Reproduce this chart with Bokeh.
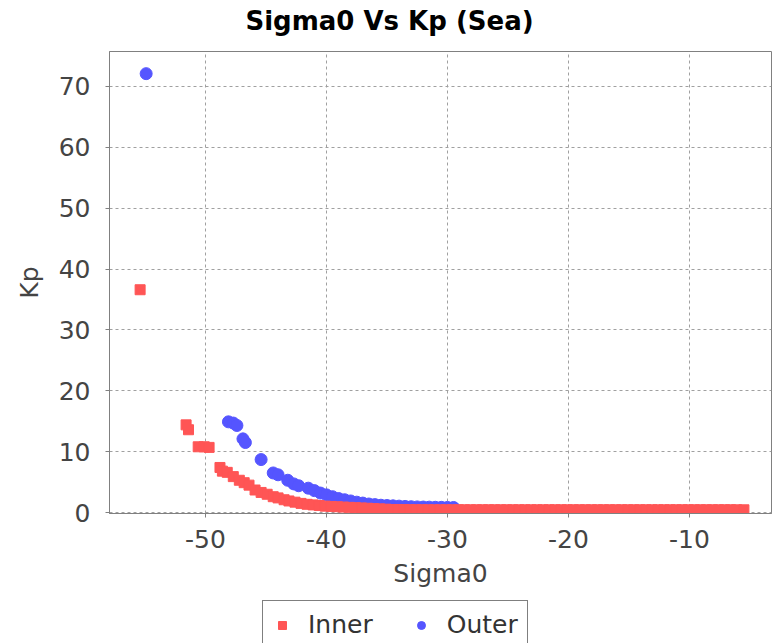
from bokeh.plotting import figure
from bokeh.layouts import column
from bokeh.core.properties import value
from bokeh.models import Range1d, FixedTicker, Legend, LegendItem, CustomJSTickFormatter
from bokeh.embed import file_html
from bokeh.resources import INLINE

# ---- data ----
title_text = "Sigma0 Vs Kp (Sea)"

inner_x = [-55.4, -51.6, -51.4, -50.6, -50.1, -49.7, -48.8, -48.6, -48.2, -47.7, -47.2,
           -46.8, -46.4, -45.9, -45.4, -44.9, -44.4, -44.0, -43.5, -43.1, -42.6, -42.1,
           -41.6, -41.1, -40.6, -40.1, -39.6, -39.1, -38.6, -38.1, -37.6, -37.1, -36.6,
           -36.1, -35.6, -35.1, -34.6, -34.1, -33.6, -33.1, -32.6, -32.1, -31.6, -31.1,
           -30.6, -30.1, -29.6, -29.1, -28.6, -28.1, -27.6, -27.1, -26.6, -26.1, -25.6,
           -25.1, -24.6, -24.1, -23.6, -23.1, -22.6, -22.1, -21.6, -21.1, -20.6, -20.1,
           -19.6, -19.1, -18.6, -18.1, -17.6, -17.1, -16.6, -16.1, -15.6, -15.1, -14.6,
           -14.1, -13.6, -13.1, -12.6, -12.1, -11.6, -11.1, -10.6, -10.1, -9.6, -9.1,
           -8.6, -8.1, -7.6, -7.1, -6.6, -6.1, -5.5]
inner_y = [36.6, 14.4, 13.6, 10.8, 10.8, 10.7, 7.4, 6.8, 6.6, 5.9, 5.3,
           4.9, 4.5, 3.7, 3.3, 3.0, 2.6, 2.4, 2.1, 1.9, 1.7, 1.5,
           1.35, 1.25, 1.15, 1.05, 1.0, 0.95, 0.9, 0.85, 0.8, 0.75, 0.7,
           0.65, 0.6, 0.55, 0.5, 0.5, 0.48, 0.47, 0.46, 0.46, 0.45, 0.45,
           0.45, 0.45, 0.45, 0.45, 0.45, 0.45, 0.45, 0.45, 0.45, 0.45, 0.45,
           0.45, 0.45, 0.45, 0.45, 0.45, 0.45, 0.45, 0.45, 0.45, 0.45, 0.45,
           0.45, 0.45, 0.45, 0.45, 0.45, 0.45, 0.45, 0.45, 0.45, 0.45, 0.45,
           0.45, 0.45, 0.45, 0.45, 0.45, 0.45, 0.45, 0.45, 0.45, 0.45, 0.45,
           0.45, 0.45, 0.45, 0.45, 0.45, 0.45, 0.45]

outer_x = [-54.9, -48.1, -47.7, -47.4, -46.9, -46.7, -45.4, -44.4, -44.0, -43.2,
           -42.7, -42.3, -41.5, -41.0, -40.5, -40.0, -39.5, -39.0, -38.5, -38.0,
           -37.5, -37.0, -36.5, -36.0, -35.5, -35.0, -34.5, -34.0, -33.5, -33.0,
           -32.5, -32.0, -31.5, -31.0, -30.5, -30.0, -29.5]
outer_y = [72.1, 14.9, 14.7, 14.3, 12.1, 11.5, 8.7, 6.5, 6.2, 5.3,
           4.7, 4.4, 4.0, 3.6, 3.2, 2.9, 2.6, 2.3, 2.1, 1.9,
           1.7, 1.55, 1.4, 1.3, 1.2, 1.15, 1.1, 1.05, 1.0, 0.95,
           0.92, 0.9, 0.88, 0.86, 0.85, 0.84, 0.83]

series_names = ["Inner", "Outer"]
series_colors = ["#FF5555", "#5555FF"]
x_ticks = [-50, -40, -30, -20, -10]
y_ticks = [0, 10, 20, 30, 40, 50, 60, 70]

FONT = "DejaVu Sans"
W = 778
FRAME_L, FRAME_R = 109, 771   # frame edges in page pixels (shared by all strips)

# ---- title strip (a pixel-scaled strip above the chart) ----
tf = figure(width=W, height=51, output_backend="svg", toolbar_location=None,
            x_range=Range1d(FRAME_L, FRAME_R), y_range=Range1d(0, 51),
            x_axis_location=None, y_axis_location=None,
            min_border_left=0, min_border_right=0, min_border_top=0, min_border_bottom=0)
tf.outline_line_color = None
tf.grid.visible = False
tf.background_fill_color = "white"
tf.border_fill_color = "white"
tf.text(x=[W / 2], y=[31], text=[title_text], text_font=value(FONT),
        text_font_size="26px", text_font_style="bold", text_color="#000000",
        text_align="center", text_baseline="middle")

# ---- main chart ----
p = figure(width=W, height=549, output_backend="svg", toolbar_location=None,
           x_range=Range1d(-57.93, -3.22), y_range=Range1d(-0.16, 75.74),
           min_border_left=FRAME_L, min_border_right=W - FRAME_R, min_border_top=0,
           min_border_bottom=87)

p.background_fill_color = "white"
p.border_fill_color = "white"
p.outline_line_color = "#808080"
p.outline_line_width = 1

p.xaxis.ticker = FixedTicker(ticks=x_ticks)
p.yaxis.ticker = FixedTicker(ticks=y_ticks)
p.xaxis.formatter = CustomJSTickFormatter(code="return tick.toString();")
p.yaxis.formatter = CustomJSTickFormatter(code="return tick.toString();")
p.xaxis.axis_label = "Sigma0"
p.yaxis.axis_label = "Kp"
for ax in (p.xaxis, p.yaxis):
    ax.major_label_text_font = FONT
    ax.major_label_text_font_size = "25px"
    ax.major_label_text_color = "#444444"
    ax.axis_label_text_font = FONT
    ax.axis_label_text_font_size = "25px"
    ax.axis_label_text_font_style = "normal"
    ax.axis_label_text_color = "#444444"
    ax.axis_line_color = "#808080"
    ax.major_tick_line_color = "#808080"
    ax.major_tick_out = 4
    ax.major_tick_in = 0
    ax.minor_tick_line_color = None
p.xaxis.major_label_standoff = 12
p.xaxis.axis_label_standoff = 8
p.yaxis.major_label_standoff = 15
p.yaxis.axis_label_standoff = 12

p.grid.grid_line_color = "#a0a0a0"
p.grid.grid_line_dash = "3 3"
p.grid.grid_line_width = 1

p.scatter(outer_x, outer_y, marker="circle", size=12,
          fill_color=series_colors[1], line_color=series_colors[1])
p.scatter(inner_x, inner_y, marker="square", size=10,
          fill_color=series_colors[0], line_color=series_colors[0])

# ---- legend strip below the chart ----
lf = figure(width=W, height=43, output_backend="svg", toolbar_location=None,
            x_range=Range1d(0, 1), y_range=Range1d(0, 1),
            x_axis_location=None, y_axis_location=None,
            min_border_left=0, min_border_right=0, min_border_top=0, min_border_bottom=0)
lf.outline_line_color = None
lf.grid.visible = False
lf.background_fill_color = "white"
lf.border_fill_color = "white"
# keys only: their single point lies outside the strip's ranges
lr_in = lf.scatter(x=[-5], y=[-5], marker="square", fill_color=series_colors[0],
                   line_color=series_colors[0])
lr_out = lf.scatter(x=[-5], y=[-5], marker="circle", fill_color=series_colors[1],
                    line_color=series_colors[1])
legend = Legend(items=[LegendItem(label=series_names[0], renderers=[lr_in]),
                       LegendItem(label=series_names[1], renderers=[lr_out])],
                orientation="horizontal", location=(153, -6))
legend.label_text_font = FONT
legend.label_text_font_size = "25px"
legend.label_text_color = "#333333"
legend.border_line_color = "#000000"
legend.border_line_width = 1
legend.background_fill_color = "white"
legend.background_fill_alpha = 1.0
legend.padding = 9
legend.margin = 0
legend.spacing = 38
legend.glyph_width = 20
legend.glyph_height = 20
legend.label_standoff = 16
lf.add_layout(legend)

layout = column(tf, p, lf, spacing=0)
open("out.html", "w").write(file_html(layout, INLINE))
